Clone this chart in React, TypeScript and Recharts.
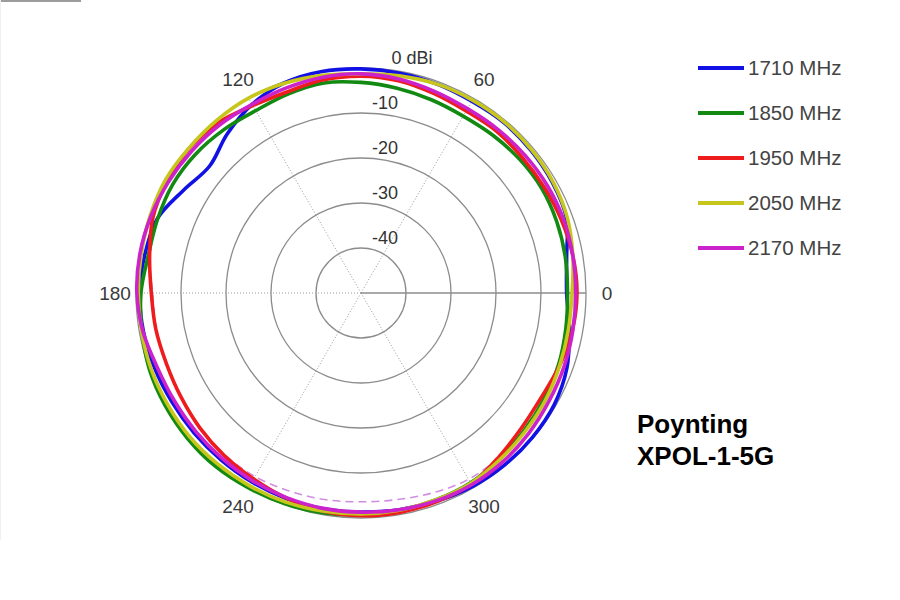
import React from 'react';
import {
  RadarChart,
  Radar,
  PolarGrid,
  PolarAngleAxis,
  PolarRadiusAxis,
} from 'recharts';

// Measured azimuths (deg) and gain (dBi) per frequency
const ANGLES = [0, 10, 20, 30, 40, 50, 60, 70, 80, 90, 100, 110, 120, 130, 140, 150, 160, 170, 180, 190, 200, 210, 220, 230, 240, 250, 260, 270, 280, 290, 300, 310, 320, 330, 340, 350];
const S1710 = [-4.3, -3.6, -1.4, -0.9, -0.7, -0.6, -0.8, -0.6, -0.4, -0.2, 0.0, -0.3, -1.6, -3.8, -6.1, -4.4, -1.8, -1.2, -0.8, -0.9, -1.2, -1.5, -1.6, -1.6, -1.5, -1.4, -1.3, -1.3, -1.1, -0.8, -0.4, -0.2, -0.2, -0.4, -1.3, -3.0];
const S1850 = [-4.1, -3.9, -3.7, -3.6, -3.9, -4.3, -4.6, -4.3, -3.8, -3.2, -2.6, -2.9, -3.2, -2.6, -2.0, -1.7, -1.9, -2.0, -1.1, -0.6, 0.0, 0.2, 0.3, 0.3, 0.0, -0.2, -0.4, -0.7, -0.9, -1.1, -1.3, -2.0, -2.6, -3.0, -3.3, -3.8];
const S1950 = [-2.0, -2.2, -2.6, -3.0, -3.2, -3.1, -3.3, -2.8, -2.1, -1.8, -1.9, -2.4, -1.9, -0.6, -0.1, -0.3, -0.8, -2.3, -3.4, -3.7, -4.0, -3.8, -3.3, -2.8, -2.3, -1.5, -0.8, -0.5, -0.5, -0.7, -1.0, -2.4, -3.4, -3.7, -3.0, -2.3];
const S2050 = [-3.1, -2.2, -1.2, -0.7, -0.5, -0.4, -0.5, -0.6, -1.0, -1.3, -0.9, -0.4, 0.0, 0.0, 0.0, 0.2, -0.1, -0.4, -0.5, -0.5, -0.4, -0.4, -0.3, -0.4, -0.5, -0.6, -0.8, -0.9, -1.0, -1.1, -1.2, -1.8, -2.3, -2.6, -3.0, -3.2];
const S2170 = [-2.3, -2.2, -2.1, -2.2, -2.4, -2.6, -2.7, -2.3, -1.7, -1.3, -1.3, -1.5, -1.6, -1.2, -0.9, -0.6, -0.3, -0.1, -0.2, -0.8, -1.8, -2.1, -2.1, -2.0, -1.8, -1.6, -1.4, -1.3, -1.1, -0.9, -0.8, -1.0, -1.4, -1.8, -2.0, -2.2];
// faint dashed reference trace
const REF = [-4.1, -3.9, -3.7, -3.6, -3.9, -4.3, -4.6, -4.3, -3.8, -3.2, -2.7, -2.9, -3.2, -2.7, -2.1, -1.8, -2.0, -2.4, -3.7, -3.8, -4.0, -3.8, -3.3, -3.0, -2.9, -3.2, -3.4, -3.6, -3.4, -2.8, -2.2, -2.4, -3.4, -3.7, -3.2, -3.8];

const ANGLE_TICKS = [0, 60, 120, 180, 240, 300];
const GAIN_DOMAIN = [-50, 0];

const SERIES = [
  { key: 's1710', name: '1710 MHz', color: '#1111e6' },
  { key: 's1850', name: '1850 MHz', color: '#128a12' },
  { key: 's1950', name: '1950 MHz', color: '#ee1c1c' },
  { key: 's2050', name: '2050 MHz', color: '#c6c61c' },
  { key: 's2170', name: '2170 MHz', color: '#cc22cc' },
];

const data = ANGLES.map((angle, i) => ({
  angle,
  s1710: S1710[i],
  s1850: S1850[i],
  s1950: S1950[i],
  s2050: S2050[i],
  s2170: S2170[i],
  ref: REF[i],
}));

const CX = 361;
const CY = 293;
const R = 225;
const FONT = '"Liberation Sans", Arial, Helvetica, sans-serif';

// closed Catmull-Rom curve through the points Recharts computed
const SmoothLoop = (props: any) => {
  const { points, stroke, strokeWidth, strokeDasharray } = props;
  if (!points || points.length < 3) return <g />;
  const n = points.length;
  let d = `M${points[0].x},${points[0].y}`;
  for (let i = 0; i < n; i++) {
    const p0 = points[(i - 1 + n) % n];
    const p1 = points[i];
    const p2 = points[(i + 1) % n];
    const p3 = points[(i + 2) % n];
    const c1x = p1.x + (p2.x - p0.x) / 6;
    const c1y = p1.y + (p2.y - p0.y) / 6;
    const c2x = p2.x - (p3.x - p1.x) / 6;
    const c2y = p2.y - (p3.y - p1.y) / 6;
    d += ` C${c1x},${c1y} ${c2x},${c2y} ${p2.x},${p2.y}`;
  }
  return (
    <path
      d={d + 'Z'}
      fill="none"
      stroke={stroke}
      strokeWidth={strokeWidth}
      strokeDasharray={strokeDasharray}
      strokeLinejoin="round"
    />
  );
};

const AngleTick = ({ payload }: any) => {
  const a = ((payload.coordinate ?? payload.value) * Math.PI) / 180;
  const x = CX + 246 * Math.cos(a);
  const y = CY - 246 * Math.sin(a);
  return (
    <text x={x} y={y} textAnchor="middle" dominantBaseline="central" fontSize={19} fill="#3a3a3a" fontFamily={FONT}>
      {payload.value}
    </text>
  );
};

const RingTick = ({ x, y, payload }: any) => {
  if (payload.value <= -50) return <g />;
  const top = payload.value === 0;
  return (
    <text
      x={top ? x + 51 : x + 24}
      y={y - 10}
      textAnchor="middle"
      dominantBaseline="central"
      fontSize={18}
      fill="#333"
      fontFamily={FONT}
    >
      {top ? '0 dBi' : payload.value}
    </text>
  );
};

export default function App() {
  return (
    <div style={{ position: 'absolute', left: 0, top: 0, width: 900, height: 600, background: '#fff', fontFamily: FONT }}>
      <div style={{ position: 'absolute', left: 0, top: 0, width: 81, height: 2, background: '#9c9c9c' }} />
      <div style={{ position: 'absolute', left: 0, top: 0, width: 1, height: 540, background: '#f0f0f0' }} />

      <RadarChart
        width={900}
        height={600}
        data={data}
        cx={CX}
        cy={CY}
        outerRadius={R}
        startAngle={0}
        endAngle={360}
        margin={{ top: 0, right: 0, bottom: 0, left: 0 }}
      >
        {/* rings */}
        <PolarGrid gridType="circle" radialLines={false} stroke="#8c8c8c" strokeWidth={1.3} />
        {/* dotted spokes */}
        <PolarGrid gridType="circle" polarRadius={[]} polarAngles={[60, 120, 180, 240, 300]} stroke="#9a9a9a" strokeDasharray="1 2" />
        {/* solid zero-degree line */}
        <PolarGrid gridType="circle" polarRadius={[]} polarAngles={[0]} stroke="#8c8c8c" strokeWidth={1.5} />
        <PolarAngleAxis
          dataKey="angle"
          type="number"
          domain={[0, 360]}
          ticks={ANGLE_TICKS}
          axisLine={false}
          tickLine={false}
          tick={<AngleTick />}
        />
        <PolarRadiusAxis
          angle={90}
          type="number"
          domain={GAIN_DOMAIN}
          allowDataOverflow
          tickCount={6}
          axisLine={false}
          tickLine={false}
          tick={<RingTick />}
        />
        <Radar
          dataKey="ref"
          stroke="#d08ee0"
          strokeWidth={1.6}
          strokeDasharray="8 5"
          fill="none"
          fillOpacity={0}
          dot={false}
          legendType="none"
          shape={<SmoothLoop />}
          isAnimationActive={false}
        />
        {SERIES.map((s) => (
          <Radar
            key={s.key}
            name={s.name}
            dataKey={s.key}
            stroke={s.color}
            strokeWidth={3.6}
            fill="none"
            fillOpacity={0}
            dot={false}
            shape={<SmoothLoop />}
            isAnimationActive={false}
          />
        ))}
      </RadarChart>

      {/* legend */}
      <div style={{ position: 'absolute', left: 698, top: 45 }}>
        {SERIES.map((s) => (
          <div key={s.key} style={{ height: 45, display: 'flex', alignItems: 'center' }}>
            <div style={{ width: 46, height: 4, background: s.color }} />
            <span style={{ marginLeft: 4, fontSize: 20.5, color: '#444', whiteSpace: 'nowrap' }}>{s.name}</span>
          </div>
        ))}
      </div>

      <div style={{ position: 'absolute', left: 637, top: 408, fontSize: 26, lineHeight: '32px', fontWeight: 700, color: '#000' }}>
        Poynting
        <br />
        XPOL-1-5G
      </div>
    </div>
  );
}
